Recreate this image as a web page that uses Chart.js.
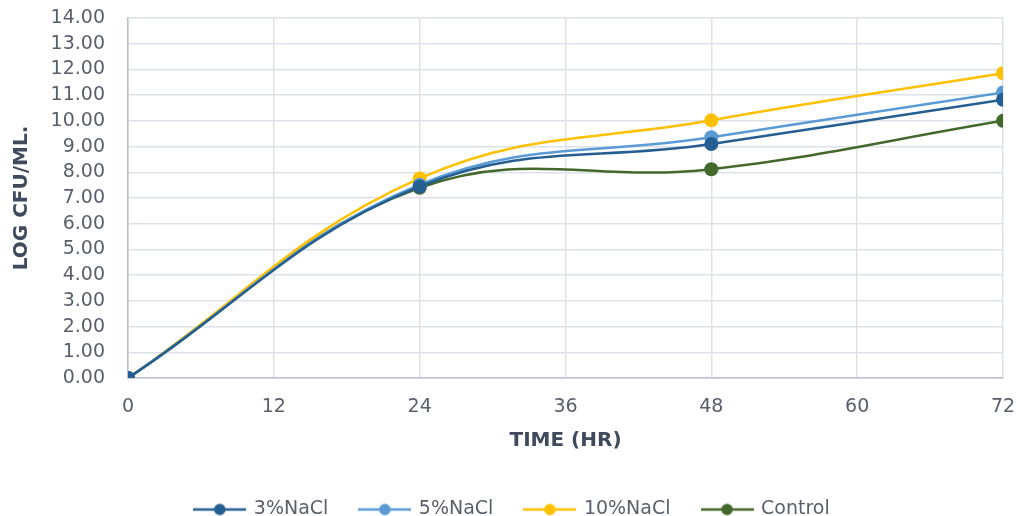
<!DOCTYPE html>
<html>
<head>
<meta charset="utf-8">
<script src="https://cdn.jsdelivr.net/npm/chart.js@4/dist/chart.umd.min.js"></script>
<style>
  html, body { margin: 0; padding: 0; background: #fff; }
  #wrap { width: 1021px; height: 516px; position: relative; }
</style>
</head>
<body>
<div id="wrap"><canvas id="c" width="1021" height="516"></canvas></div>
<script>
// Sampling times (hours) and log counts per treatment
const timeHr = [0, 24, 48, 72];
const nacl3 = [0.00, 7.45, 9.10, 10.82];
const nacl5 = [0.00, 7.52, 9.36, 11.10];
const nacl10 = [0.00, 7.76, 10.02, 11.85];
const control = [0.00, 7.40, 8.12, 10.00];

const seriesNames = ['3%NaCl', '5%NaCl', '10%NaCl', 'Control'];
const seriesColors = ['#255E91', '#5B9BD5', '#FFC000', '#43682B'];
const seriesValues = [nacl3, nacl5, nacl10, control];

const FONT = "'DejaVu Sans', 'Liberation Sans', sans-serif";
const TICK_COLOR = '#595F6B';
const TITLE_COLOR = '#3F4A5C';

// Legend swatch: short line with a dot in the middle
function swatch(color) {
  const cv = document.createElement('canvas');
  cv.width = 53; cv.height = 14;
  const g = cv.getContext('2d');
  g.strokeStyle = color; g.lineWidth = 2.5;
  g.beginPath(); g.moveTo(0, 7); g.lineTo(53, 7); g.stroke();
  g.fillStyle = color;
  g.beginPath(); g.arc(26.5, 7, 5.8, 0, Math.PI * 2); g.fill();
  return cv;
}

const datasets = seriesNames.map((name, i) => ({
  label: name,
  data: timeHr.map((t, k) => ({ x: t, y: seriesValues[i][k] })),
  borderColor: seriesColors[i],
  backgroundColor: seriesColors[i],
  borderWidth: 2.5,
  pointRadius: 7,
  pointHoverRadius: 7,
  pointBorderWidth: 0,
  tension: 0.4,
  fill: false
}));

new Chart(document.getElementById('c'), {
  type: 'line',
  data: { datasets },
  options: {
    responsive: false,
    animation: false,
    devicePixelRatio: 1,
    layout: { padding: { left: 22, right: 18, top: 18, bottom: -13 } },
    plugins: {
      tooltip: { enabled: false },
      legend: {
        position: 'bottom',
        labels: {
          usePointStyle: true,
          pointStyleWidth: 49,
          boxHeight: 14,
          padding: 32,
          color: TICK_COLOR,
          font: { family: FONT, size: 19 },
          generateLabels: (chart) => chart.data.datasets.map((d, i) => ({
            text: d.label,
            fillStyle: d.borderColor,
            strokeStyle: d.borderColor,
            fontColor: TICK_COLOR,
            lineWidth: 0,
            pointStyle: swatch(d.borderColor),
            datasetIndex: i,
            hidden: false
          }))
        }
      }
    },
    scales: {
      x: {
        type: 'linear',
        min: 0, max: 72,
        ticks: { stepSize: 12, autoSkip: false, color: TICK_COLOR, font: { family: FONT, size: 19 }, padding: 18 },
        grid: { color: '#DDE1E8', lineWidth: 1.5, drawTicks: false },
        border: { color: '#B8C2D2', width: 1.5 },
        title: {
          display: true, text: 'TIME (HR)', color: TITLE_COLOR,
          font: { family: FONT, size: 20, weight: 'bold' }, padding: { top: 4, bottom: 15 }
        },
        afterFit: (s) => { s.height = 90; s.paddingLeft = 0; s.paddingRight = 0; }
      },
      y: {
        min: 0, max: 14,
        ticks: {
          stepSize: 1, autoSkip: false, color: TICK_COLOR, font: { family: FONT, size: 19 }, padding: 23,
          callback: (v) => Number(v).toFixed(2)
        },
        grid: { color: '#DDE1E8', lineWidth: 1.5, drawTicks: false },
        border: { color: '#B8C2D2', width: 1.5 },
        title: {
          display: true, text: 'LOG CFU/ML.', color: TITLE_COLOR,
          font: { family: FONT, size: 20, weight: 'bold' }, padding: { top: -12, bottom: 4 }
        },
        afterFit: (s) => { s.width = 106; s.paddingTop = 0; s.paddingBottom = 0; }
      }
    }
  }
});
</script>
</body>
</html>
